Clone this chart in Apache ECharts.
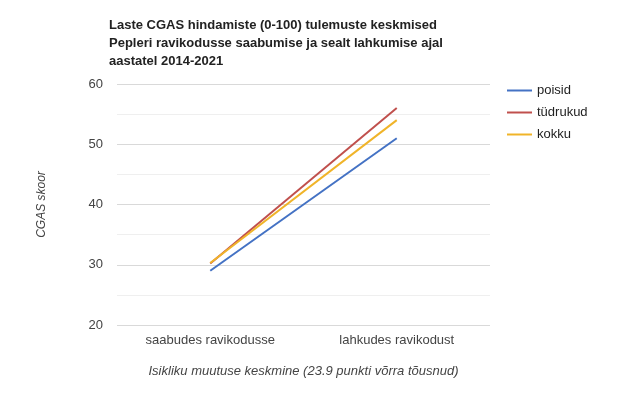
<!DOCTYPE html>
<html><head><meta charset="utf-8">
<script src="https://cdn.jsdelivr.net/npm/echarts@6/dist/echarts.min.js"></script>
<style>html,body{margin:0;padding:0;background:#fff}#c{width:626px;height:397px}</style>
</head><body><div id="c"></div>
<script>
const categories = ['saabudes ravikodusse', 'lahkudes ravikodust'];
const poisid = [29.0, 51.0];
const tudrukud = [30.2, 56.0];
const kokku = [30.3, 54.0];
const yTicks = [20, 30, 40, 50, 60];

const chart = echarts.init(document.getElementById('c'));
const font = 'Liberation Sans, Arial, sans-serif';
chart.setOption({
  animation: false,
  textStyle: { fontFamily: font },
  title: {
    text: 'Laste CGAS hindamiste (0-100) tulemuste keskmised\nPepleri ravikodusse saabumise ja sealt lahkumise ajal\naastatel 2014-2021',
    left: 104, top: 11,
    textStyle: { fontSize: 13, fontWeight: 'bold', color: '#222', lineHeight: 18, fontFamily: font }
  },
  legend: {
    orient: 'vertical', left: 502, top: 79, itemGap: 9, itemWidth: 25, itemHeight: 2,
    icon: 'rect',
    textStyle: { fontSize: 13, color: '#222', fontFamily: font },
    data: ['poisid', 'tüdrukud', 'kokku']
  },
  grid: { left: 117, right: 136, top: 84, bottom: 72 },
  xAxis: {
    type: 'category', data: categories, boundaryGap: true,
    axisLine: { show: false }, axisTick: { show: false },
    axisLabel: { fontSize: 13, color: '#444', margin: 9 },
    name: 'Isikliku muutuse keskmine (23.9 punkti võrra tõusnud)',
    nameLocation: 'middle', nameGap: 40,
    nameTextStyle: { fontStyle: 'italic', fontSize: 13, color: '#444' }
  },
  yAxis: {
    type: 'value', min: yTicks[0], max: yTicks[yTicks.length - 1], interval: 10,
    axisLine: { show: false }, axisTick: { show: false },
    axisLabel: { fontSize: 13, color: '#444', margin: 14 },
    splitLine: { lineStyle: { color: '#d9d9d9' } },
    minorTick: { show: false, splitNumber: 2 },
    minorSplitLine: { show: true, lineStyle: { color: '#efefef' } },
    name: 'CGAS skoor', nameLocation: 'middle', nameGap: 69, nameRotate: 90,
    nameTextStyle: { fontStyle: 'italic', fontSize: 12, color: '#444' }
  },
  series: [
    { name: 'poisid', type: 'line', data: poisid, symbol: 'none', lineStyle: { width: 2, color: '#4472c4' }, itemStyle: { color: '#4472c4' }, z: 3 },
    { name: 'tüdrukud', type: 'line', data: tudrukud, symbol: 'none', lineStyle: { width: 2, color: '#c0504d' }, itemStyle: { color: '#c0504d' }, z: 4 },
    { name: 'kokku', type: 'line', data: kokku, symbol: 'none', lineStyle: { width: 2, color: '#f0b429' }, itemStyle: { color: '#f0b429' }, z: 5 }
  ]
});
</script></body></html>
